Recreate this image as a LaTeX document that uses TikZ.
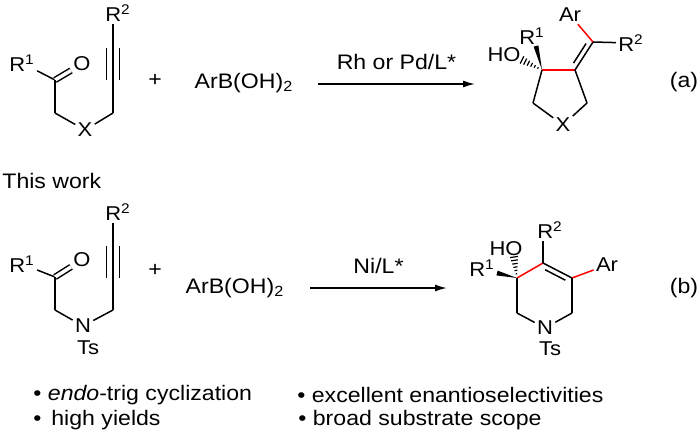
\documentclass[tikz,border=0pt]{standalone}
\usepackage{fontspec}
\setmainfont{Liberation Sans}[FakeStretch=1.1]
\usetikzlibrary{arrows.meta,calc}

\begin{document}
\begin{tikzpicture}[x=0.5pt,y=-0.5pt,
	atom/.style={inner sep=1pt,font=\fontsize{10}{12}\selectfont},
	txt/.style={inner sep=1pt,font=\fontsize{10.5}{12}\selectfont},
	bond/.style={line width=0.75pt},
	newbond/.style={bond,red},
	dblbond/.style={bond,double,double distance=1.75pt},
	triplebond/.style={bond,double,double distance=5.75pt},
	hashbond/.style={line width=0.6pt},
	rxn/.style={line width=0.75pt,-{Latex[length=6pt,width=3.5pt]}}]
	\useasboundingbox (0,0) rectangle (700,434);

	\node[atom] (r1a) at (22,63) {R\textsuperscript{1}};
	\node[atom] (oa) at (82,64) {O};
	\node[atom] (xa) at (85,130) {X};
	\node[atom] (r2a) at (118,13) {R\textsuperscript{2}};
	\coordinate (ca) at (55,80);
	\coordinate (ca2) at (55,113);
	\coordinate (ca3) at (113,113);
	\coordinate (ya1) at (113,80);
	\coordinate (ya2) at (113,48);
	\draw[triplebond] (ya1) -- (ya2);
	\path[bond]
	(r1a) edge (ca)
	(ca) edge[dblbond] (oa)
	(ca) edge (ca2)
	(ca2) edge (xa)
	(xa) edge (ca3)
	(ca3) edge (ya1 |- r2a.south);
	\node[txt] (plusa) at (155,80) {+};
	\node[txt] (boa) at (244,83) {ArB(OH)\textsubscript{2}};
	\coordinate (arra) at (318,84);
	\coordinate (arrb) at (475,84);
	\draw[rxn] (arra) -- node[txt,above=6pt] (conda) {Rh or Pd/L*} (arrb);

	\coordinate (qa) at (542,70);
	\coordinate (pa) at (575,70);
	\coordinate (va) at (593,42);
	\coordinate (ra1) at (533,103);
	\coordinate (ra2) at (587,103);
	\coordinate (wa1) at (538.4,45.4);
	\coordinate (wa2) at (533.6,46.6);
	\coordinate (ha1) at (523.8,56.4);
	\coordinate (ha2) at (520.2,63.6);
	\node[atom] (hoa) at (504,55) {HO};
	\node[atom] (r1p) at (532,36) {R\textsuperscript{1}};
	\node[atom] (ara) at (570,15) {Ar};
	\node[atom] (r2p) at (631,43) {R\textsuperscript{2}};
	\node[atom] (xp) at (563,125) {X};
	\fill (qa) -- (wa1) -- (wa2) -- cycle;
	\foreach \t in {0.2,0.36,0.52,0.68,0.84,1}
		\draw[hashbond] ($(qa)!\t!(ha1)$) -- ($(qa)!\t!(ha2)$);
	\path[bond]
	(qa) edge[newbond] (pa)
	(pa) edge (va)
	($(pa)!0.15!(va)!2.5pt!90:(va)$) edge ($(pa)!0.85!(va)!2.5pt!90:(va)$)
	(va) edge[newbond] (ara)
	(va) edge (r2p)
	(qa) edge (ra1)
	(ra1) edge (xp)
	(xp) edge (ra2)
	(ra2) edge (pa);
	\node[txt] (laba) at (684,82) {(a)};

	\node[txt,anchor=west] (tw) at (0,181) {This work};

	\node[atom] (r1b) at (22,264) {R\textsuperscript{1}};
	\node[atom] (ob) at (82,260) {O};
	\node[atom] (nb) at (83,326) {N};
	\node[atom] (tsb) at (88,348) {Ts};
	\node[atom] (r2b) at (118,212) {R\textsuperscript{2}};
	\coordinate (cb) at (55,277);
	\coordinate (cb2) at (55,310);
	\coordinate (cb3) at (113,310);
	\coordinate (yb1) at (113,278);
	\coordinate (yb2) at (113,246);
	\draw[triplebond] (yb1) -- (yb2);
	\path[bond]
	(r1b) edge (cb)
	(cb) edge[dblbond] (ob)
	(cb) edge (cb2)
	(cb2) edge (nb)
	(nb) edge (cb3)
	(cb3) edge (yb1 |- r2b.south);
	\node[txt] (plusb) at (155,270) {+};
	\node[txt] (bob) at (235,288) {ArB(OH)\textsubscript{2}};
	\coordinate (arrc) at (310,288);
	\coordinate (arrd) at (447,288);
	\draw[rxn] (arrc) -- node[txt,above=6pt] (condb) {Ni/L*} (arrd);

	\coordinate (sb) at (517,278);
	\coordinate (c4b) at (543,263);
	\coordinate (c5b) at (572,278);
	\coordinate (rb1) at (517,313);
	\coordinate (rb2) at (572,313);
	\coordinate (wb1) at (497.6,270.6);
	\coordinate (wb2) at (496.4,275.4);
	\coordinate (hb1) at (518,256.4);
	\coordinate (hb2) at (510,257.6);
	\node[atom] (hob) at (506,249) {HO};
	\node[atom] (r1q) at (482,268) {R\textsuperscript{1}};
	\node[atom] (r2q) at (550,230) {R\textsuperscript{2}};
	\node[atom] (arb) at (607,265) {Ar};
	\node[atom] (np) at (545,328) {N};
	\node[atom] (tsp) at (550,349) {Ts};
	\fill (sb) -- (wb1) -- (wb2) -- cycle;
	\foreach \t in {0.2,0.36,0.52,0.68,0.84,1}
		\draw[hashbond] ($(sb)!\t!(hb1)$) -- ($(sb)!\t!(hb2)$);
	\path[bond]
	(sb) edge[newbond] (c4b)
	(c4b) edge (c5b)
	($(c4b)!0.15!(c5b)!2.5pt!-90:(c5b)$) edge ($(c4b)!0.85!(c5b)!2.5pt!-90:(c5b)$)
	(c4b) edge (c4b |- r2q.south)
	(c5b) edge[newbond] (arb)
	(sb) edge (rb1)
	(rb1) edge (np)
	(np) edge (rb2)
	(rb2) edge (c5b);
	\node[txt] (labb) at (684,288) {(b)};

	\node[txt,anchor=west] (pt1) at (31,395) {\textbullet\ \textit{endo}-trig cyclization};
	\node[txt,anchor=west] (pt2) at (31,420) {\textbullet\ \,high yields};
	\node[txt,anchor=west] (pt3) at (295,395) {\textbullet\ excellent enantioselectivities};
	\node[txt,anchor=west] (pt4) at (296,420) {\textbullet\ broad substrate scope};
\end{tikzpicture}
\end{document}
